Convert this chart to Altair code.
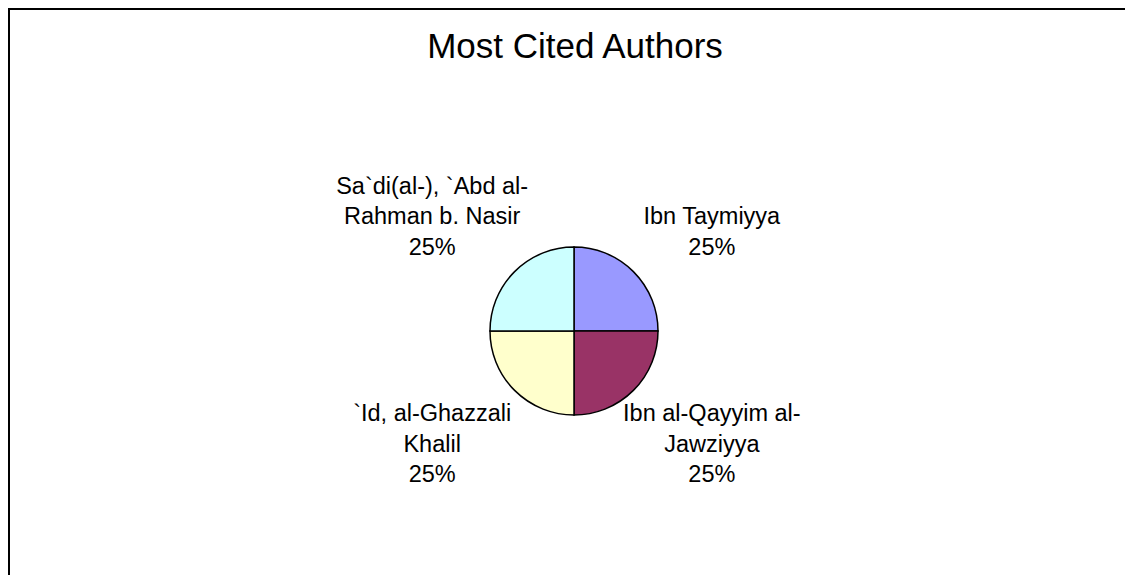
import altair as alt
import pandas as pd

title_text = "Most Cited Authors"
authors = [
    "Ibn Taymiyya",
    "Ibn al-Qayyim al-\nJawziyya",
    "`Id, al-Ghazzali\nKhalil",
    "Sa`di(al-), `Abd al-\nRahman b. Nasir",
]
values = [1, 1, 1, 1]
colors = ["#9999FF", "#993366", "#FFFFCC", "#CCFFFF"]

W, H = 1117, 575
CX, CY = 566, 323

df = pd.DataFrame({
    "author": authors,
    "value": values,
    "rank": list(range(1, len(authors) + 1)),
})

base = alt.Chart(df).transform_joinaggregate(
    total="sum(value)"
).transform_calculate(
    pct="format(datum.value / datum.total, '.0%')",
    label="datum.author + '\\n' + datum.pct",
    nlines="length(split(datum.author + '\\n' + datum.pct, '\\n'))",
    side="datum.rank <= 2 ? 1 : -1",
    top="(datum.rank == 1 || datum.rank == 4) ? 1 : 0",
)

theta = alt.Theta("value:Q", stack=True)
order = alt.Order("rank:Q", sort="ascending")

pie = base.mark_arc(outerRadius=84, stroke="black", strokeWidth=1.5).encode(
    theta=theta,
    order=order,
    x=alt.value(CX),
    y=alt.value(CY),
    color=alt.Color("author:N", scale=alt.Scale(domain=authors, range=colors), legend=None),
)

labels = base.mark_text(
    font="Liberation Sans",
    fontSize=23.5,
    lineHeight=30.5,
    lineBreak="\n",
    align="center",
    color="black",
    dx=alt.ExprRef(expr="datum.side == 1 ? 65 : -69"),
    dy=alt.ExprRef(expr="datum.top == 1 ? -(datum.nlines - 1) * 30.5 + 1.5 : -1.5"),
    baseline=alt.ExprRef(expr="datum.top == 1 ? 'bottom' : 'top'"),
).encode(
    theta=theta,
    order=order,
    x=alt.value(CX),
    y=alt.value(CY),
    radius=alt.value(103),
    text="label:N",
)

title = alt.Chart(pd.DataFrame({"t": [title_text]})).mark_text(
    font="Liberation Sans",
    fontSize=35,
    align="center",
    baseline="alphabetic",
    color="black",
).encode(
    x=alt.value(CX + 1),
    y=alt.value(50),
    text="t:N",
)

frame_df = pd.DataFrame({"edge": ["top", "left"]})
top_rule = alt.Chart(frame_df).transform_filter("datum.edge == 'top'").mark_rule(
    color="black", strokeWidth=2
).encode(x=alt.value(0), x2=alt.value(W), y=alt.value(1))
left_rule = alt.Chart(frame_df).transform_filter("datum.edge == 'left'").mark_rule(
    color="black", strokeWidth=2
).encode(x=alt.value(1), y=alt.value(0), y2=alt.value(H))

chart = alt.layer(top_rule, left_rule, pie, labels, title).properties(
    width=W,
    height=H,
    autosize=alt.AutoSizeParams(type="none"),
    padding=0,
    background="white",
).configure_view(stroke=None)

chart.save("out.html", embed_options={"renderer": "svg", "actions": False})
